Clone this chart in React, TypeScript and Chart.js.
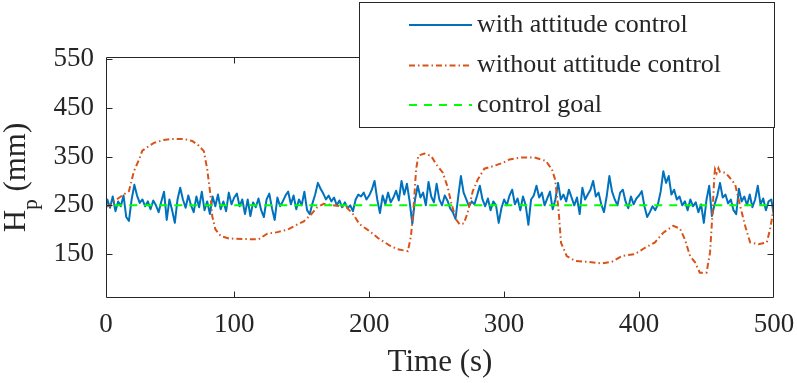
import React, { useEffect, useRef } from 'react';
import { Chart, registerables } from 'chart.js';

Chart.register(...registerables);

const FONT = '"Liberation Serif", "Times New Roman", serif';
const INK = '#262626';

const X_TICKS = [0, 100, 200, 300, 400, 500];
const Y_TICKS = [150, 250, 350, 450, 550];
const X_MIN = 5;
const X_MAX = 500;
const Y_MIN = 60;
const Y_MAX = 554;

const LEGEND_LABELS = ['with attitude control', 'without attitude control', 'control goal'];
const X_TITLE = 'Time (s)';

// control goal
const GOAL_T = [0, 500];
const GOAL_V = [250, 250];

// with attitude control: sampled every BLUE_DT seconds starting at BLUE_T0
const BLUE_T0 = 4;
const BLUE_DT = 2;
const BLUE_V = [
  228, 262, 245, 268, 238, 258, 248, 270, 226, 218, 262, 292, 270, 255,
  262, 248, 258, 242, 260, 250, 236, 258, 278, 220, 262, 240, 214, 262, 286,
  262, 245, 270, 250, 236, 268, 246, 278, 240, 258, 232, 268, 248, 272, 242,
  258, 238, 276, 252, 266, 274, 248, 262, 232, 262, 228, 256, 246, 264, 240, 226, 262, 274, 244, 220,
  266, 248, 258, 270, 278, 252, 270, 242, 262, 250, 278, 240, 232, 254, 272, 296, 284, 274, 262, 270,
  258, 266, 250, 260, 246, 256, 244, 250, 238, 262, 272, 268, 276, 262, 270,
  282, 300, 262, 234, 270, 252, 276, 256, 266, 280, 260, 300, 272, 294, 258, 212, 262, 290, 266, 276,
  250, 298, 268, 256, 294, 262, 250, 270, 260, 244, 236, 222, 268, 310, 276, 262, 248, 258, 252, 270,
  290, 262, 248, 264, 240, 258, 250, 214, 244, 262, 250, 270, 282, 252, 264, 240, 268, 250, 210, 262,
  270, 290, 266, 276, 250, 264, 278, 242, 262, 296, 262, 272, 258, 282, 266, 250, 266, 232, 286, 262,
  272, 282, 300, 268, 276, 252, 236, 268, 310, 278, 262, 250, 276, 282, 258, 244, 268, 252, 264, 270,
  279, 248, 226, 236, 248, 240, 252, 278, 320, 296, 310, 272, 282, 262, 268, 250, 258, 240, 262, 248,
  256, 236, 252, 214, 262, 290, 228, 252, 270, 296, 266, 272, 254, 262, 240, 232, 284, 258, 268, 250,
  272, 246, 262, 290, 252, 264, 240, 258, 262, 228,
];

// without attitude control
const ORANGE_T = [
  5, 8, 13, 18, 22, 25.7, 29.4, 31.9, 36, 40.5, 47.9, 53, 62.7, 68.9, 73.8, 77.5, 80, 82.5, 83.7, 86,
  90, 96, 107, 118, 124.5, 132, 139.4, 145.6, 151.6, 156.6, 161.5, 166.4, 171, 183, 188, 193, 200.3,
  206.5, 215, 221, 228.7, 231, 233, 234.8, 236.5, 241, 246, 249.7, 254.6, 258.3, 260.8, 264.5, 267,
  270.2, 273, 276.8, 280.5, 285.4, 292.8, 299, 304, 312.6, 322.5, 331, 333.5, 335.3, 337.8, 340.3,
  342.2, 346.4, 352.6, 362.5, 372.4, 379.8, 387.2, 397, 404.4, 411.8, 418, 425.4, 430.4, 434, 437.8,
  441.5, 445, 450, 452.6, 454.3, 455.8, 456.3, 457.5, 458.8, 460, 463.7, 466.2, 471.2, 474.9, 478.6,
  482.3, 488.5, 494.7, 497.1, 498.8, 500,
];
const ORANGE_V = [
  247, 250, 262, 272, 279, 320, 343, 362, 370, 378, 384, 386, 386, 382, 372, 361, 324, 269, 228, 201,
  187, 182, 181, 180, 192, 195, 200, 209, 217, 230, 246, 253, 251, 247, 232, 211, 197,
  183, 168, 160, 156, 187, 249, 324, 352, 356, 351, 334, 317, 286, 255, 221, 211,
  213, 235, 279, 303, 325, 331, 337, 344, 348, 348, 341, 331, 325, 303, 242,
  173, 146, 136, 134, 131, 134, 146, 150, 163, 174, 194, 208, 202, 180, 146,
  133, 112, 112, 153, 228, 310, 324, 316, 326, 318, 317, 310, 293, 249, 208,
  174, 170, 174, 201, 228, 249,
];

const BLUE = '#0072BD';
const ORANGE = '#D95319';
const GREEN = '#00FF00';
const ORANGE_DASH = [6, 3, 1.5, 3];
const GREEN_DASH = [8, 7];

const framePlugin = {
  id: 'framePlugin',
  afterDatasetsDraw(chart: any) {
    const { ctx, chartArea: a, scales } = chart;
    const L = Math.round(a.left) + 0.5;
    const R = Math.round(a.right) - 0.5;
    const T = Math.round(a.top) + 0.5;
    const B = Math.round(a.bottom) - 0.5;
    ctx.save();
    ctx.strokeStyle = INK;
    ctx.lineWidth = 1;
    ctx.setLineDash([]);
    ctx.beginPath();
    ctx.rect(L, T, R - L, B - T);
    ctx.stroke();
    const tl = 6;
    ctx.beginPath();
    X_TICKS.forEach((v) => {
      if (v <= X_MIN || v >= X_MAX) return;
      const x = Math.round(scales.x.getPixelForValue(v)) + 0.5;
      ctx.moveTo(x, B);
      ctx.lineTo(x, B - tl);
      ctx.moveTo(x, T);
      ctx.lineTo(x, T + tl);
    });
    Y_TICKS.forEach((v) => {
      const y = Math.round(scales.y.getPixelForValue(v)) + 0.5;
      ctx.moveTo(L, y);
      ctx.lineTo(L + tl, y);
      ctx.moveTo(R, y);
      ctx.lineTo(R - tl, y);
    });
    ctx.stroke();
    ctx.restore();
  },
  afterDraw(chart: any) {
    const { ctx, chartArea: a } = chart;
    ctx.save();
    // legend box
    const bx = 359.5, by = 2.5, bw = 415, bh = 125;
    ctx.fillStyle = '#ffffff';
    ctx.fillRect(bx, by, bw, bh);
    ctx.strokeStyle = INK;
    ctx.lineWidth = 1;
    ctx.setLineDash([]);
    ctx.strokeRect(bx, by, bw, bh);
    const rows = [25, 65.5, 105];
    const styles = [
      { c: BLUE, d: [] as number[] },
      { c: ORANGE, d: ORANGE_DASH },
      { c: GREEN, d: GREEN_DASH },
    ];
    rows.forEach((ry, i) => {
      ctx.strokeStyle = styles[i].c;
      ctx.lineWidth = 2;
      ctx.setLineDash(styles[i].d);
      ctx.beginPath();
      ctx.moveTo(409, ry);
      ctx.lineTo(472, ry);
      ctx.stroke();
      ctx.setLineDash([]);
      ctx.fillStyle = INK;
      ctx.font = `26px ${FONT}`;
      ctx.textAlign = 'left';
      ctx.textBaseline = 'middle';
      ctx.fillText(LEGEND_LABELS[i], 477, ry);
    });
    // x title
    ctx.fillStyle = INK;
    ctx.font = `31px ${FONT}`;
    ctx.textAlign = 'center';
    ctx.textBaseline = 'alphabetic';
    ctx.fillText(X_TITLE, (a.left + a.right) / 2, 371);
    // y title H_p (mm)
    ctx.translate(25, (a.top + a.bottom) / 2);
    ctx.rotate(-Math.PI / 2);
    ctx.textAlign = 'left';
    ctx.font = `31px ${FONT}`;
    const wH = ctx.measureText('H').width;
    const wRest = ctx.measureText(' (mm)').width;
    ctx.font = `21px ${FONT}`;
    const wp = ctx.measureText('p').width;
    let x = -(wH + wp + wRest) / 2;
    ctx.font = `31px ${FONT}`;
    ctx.fillText('H', x, 0);
    x += wH;
    ctx.font = `21px ${FONT}`;
    ctx.fillText('p', x, 12);
    x += wp;
    ctx.font = `31px ${FONT}`;
    ctx.fillText(' (mm)', x, 0);
    ctx.restore();
  },
};

export default function App() {
  const ref = useRef<HTMLCanvasElement>(null);
  useEffect(() => {
    if (!ref.current) return;
    const blue = BLUE_V.map((v, i) => ({ x: BLUE_T0 + i * BLUE_DT, y: v }));
    const orange = ORANGE_V.map((v, i) => ({ x: ORANGE_T[i], y: v }));
    const goal = GOAL_V.map((v, i) => ({ x: GOAL_T[i], y: v }));
    const chart = new Chart(ref.current, {
      type: 'line',
      data: {
        datasets: [
          {
            label: LEGEND_LABELS[2],
            data: goal,
            borderColor: GREEN,
            borderWidth: 2,
            borderDash: GREEN_DASH,
            pointRadius: 0,
            order: 0,
          },
          {
            label: LEGEND_LABELS[1],
            data: orange,
            borderColor: ORANGE,
            borderWidth: 2,
            borderDash: ORANGE_DASH,
            pointRadius: 0,
            tension: 0,
            order: 1,
          },
          {
            label: LEGEND_LABELS[0],
            data: blue,
            borderColor: BLUE,
            borderWidth: 2,
            pointRadius: 0,
            tension: 0,
            borderJoinStyle: 'round',
            order: 2,
          },
        ],
      },
      options: {
        animation: false,
        responsive: false,
        devicePixelRatio: 1,
        layout: { padding: { top: 57, right: 23, left: 0, bottom: 0 } },
        plugins: { legend: { display: false }, tooltip: { enabled: false } },
        scales: {
          x: {
            type: 'linear',
            min: X_MIN,
            max: X_MAX,
            grid: { display: false, drawTicks: false },
            border: { display: false },
            afterBuildTicks: (s: any) => {
              s.ticks = X_TICKS.map((v) => ({ value: Math.max(v, X_MIN) }));
            },
            afterFit: (s: any) => {
              s.height = 85;
              s.paddingLeft = 0;
              s.paddingRight = 0;
            },
            ticks: {
              autoSkip: false,
              maxRotation: 0,
              padding: 11,
              color: INK,
              font: { family: FONT, size: 27 },
              callback: (v: any) => (v <= X_MIN ? '0' : String(v)),
            },
          },
          y: {
            type: 'linear',
            min: Y_MIN,
            max: Y_MAX,
            grid: { display: false, drawTicks: false },
            border: { display: false },
            afterBuildTicks: (s: any) => {
              s.ticks = Y_TICKS.map((v) => ({ value: v }));
            },
            afterFit: (s: any) => {
              s.width = 106;
              s.paddingTop = 0;
              s.paddingBottom = 0;
            },
            ticks: {
              autoSkip: false,
              padding: 12,
              color: INK,
              font: { family: FONT, size: 27 },
            },
          },
        },
      },
      plugins: [framePlugin],
    });
    return () => chart.destroy();
  }, []);
  return (
    <div style={{ position: 'fixed', left: 0, top: 0, width: 797, height: 383, background: '#fff' }}>
      <canvas ref={ref} width={797} height={383} style={{ display: 'block' }} />
    </div>
  );
}
